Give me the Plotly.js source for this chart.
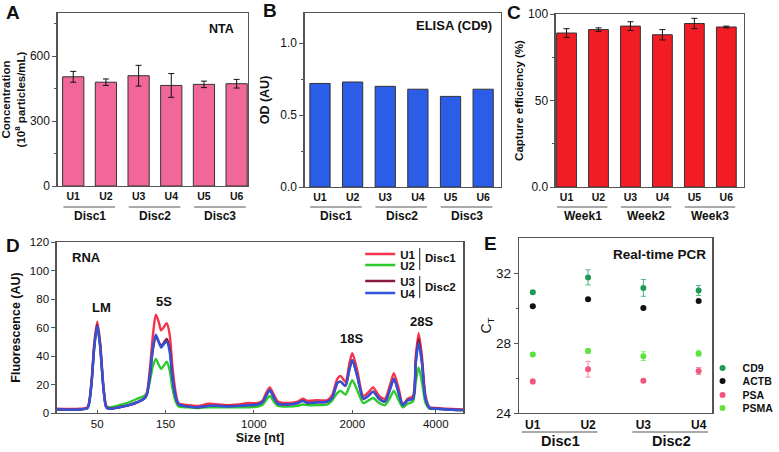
<!DOCTYPE html>
<html>
<head>
<meta charset="utf-8">
<script src="https://cdn.plot.ly/plotly-3.0.1.min.js"></script>
<style>html,body{margin:0;padding:0;background:#fff;}#chart{width:779px;height:452px;}</style>
</head>
<body>
<div id="chart"></div>
<script>
// ---------- DATA ----------
const cats6 = ['U1','U2','U3','U4','U5','U6'];
const ntaConc = [505, 480, 510, 465, 470, 473];
const ntaErr = [25, 15, 48, 55, 15, 20];
const elisaOD = [0.72, 0.73, 0.70, 0.68, 0.63, 0.68];
const captureEff = [89, 91, 93, 88, 94.5, 92.5];
const captureErr = [2.5, 1, 2.5, 3, 3, 0.5];
const discGroups = ['Disc1', 'Disc2', 'Disc3'];
const weekGroups = ['Week1', 'Week2', 'Week3'];

// Electropherogram (migration position, arbitrary units 0-100) and fluorescence
const sizeTickVals = [10, 26.8, 48.5, 72.7, 93.2];
const sizeTickText = ['50', '150', '1000', '2000', '4000'];
const migration = [0, 5.6, 7.6, 8.5, 9.3, 10.0, 10.7, 11.5, 12.2, 12.9, 15.4, 17.8, 20.2, 21.5, 22.2, 22.9, 23.7, 24.4, 25.1, 25.7, 26.3, 27.1, 27.8, 28.5, 29.3, 30.0, 32.4, 34.9, 37.3, 39.8, 42.2, 44.6, 47.1, 49.5, 50.7, 51.5, 52.4, 53.4, 54.4, 56.8, 59.3, 60.5, 61.7, 64.1, 66.6, 67.8, 69.0, 69.8, 71.0, 72.0, 72.7, 73.9, 75.4, 76.8, 77.8, 79.3, 80.7, 82.0, 82.9, 84.1, 85.1, 86.3, 87.6, 88.3, 89.0, 89.8, 90.7, 91.7, 93.4, 95.9, 100];
const rnaU1 = [3, 3, 4, 20, 50, 64, 50, 20, 5, 3, 4, 5.5, 8, 10, 14, 30, 55, 69, 64, 58, 60, 63, 55, 32, 14, 7, 5.5, 5, 6.5, 6, 5.5, 6, 7, 7, 9, 14, 18, 13, 8, 7, 8, 10, 8.5, 9, 9, 13, 24, 26, 22, 35, 42, 30, 12, 15, 18, 12, 10, 20, 28, 17, 6, 10, 12, 40, 56, 40, 12, 4, 3.5, 3, 2.5];
const rnaU2 = [2.5, 2.5, 3.5, 18, 47, 61, 47, 18, 5, 4, 5.5, 7.5, 10.5, 12, 14, 22, 33, 38, 34, 31, 33, 36, 30, 17, 8, 4.5, 4, 3.5, 4, 4, 4, 4, 4, 4.5, 6, 9, 12, 8, 5, 4.5, 5, 6, 5.5, 5.5, 6, 9, 14, 15.5, 13, 19, 23, 16, 7, 9, 10.5, 7, 5.5, 11, 15.5, 9, 4, 6.5, 8, 22, 32, 22, 7, 3, 3, 2.5, 2];
const rnaU3 = [2.5, 2.5, 3.5, 18, 48, 62, 48, 18, 4, 3, 4, 5.5, 8, 10, 13, 25, 45, 54, 50, 47, 49, 52, 45, 25, 11, 6, 4.5, 4, 5, 5, 5, 5, 5.5, 6, 8, 12, 16, 11, 6.5, 6, 7, 8.5, 7, 7.5, 8, 11, 21, 22, 19, 31, 37, 26, 10, 12.5, 15, 10, 8, 17, 24, 14, 5.5, 9, 10, 36, 52, 36, 10, 3.5, 3, 2.5, 2];
const rnaU4 = [2.5, 2.5, 3.5, 18, 47, 61, 47, 18, 4, 3, 4, 5.5, 8, 10, 13, 26, 46, 55, 50, 46, 48, 50, 43, 24, 11, 6, 4.5, 4, 5, 5, 4.5, 5, 5.5, 6, 8, 12, 16, 11, 6.5, 6, 7, 8.5, 7, 7.5, 8, 11, 21, 22, 19, 31, 37, 26, 10, 12.5, 15, 10, 8, 17, 24, 14, 5.5, 9, 10, 35, 49, 35, 10, 3.5, 3, 2.5, 2];

// Real-time PCR
const cats4 = ['U1', 'U2', 'U3', 'U4'];
const ctCD9 = [30.9, 31.75, 31.15, 31.0];
const ctCD9Err = [0.1, 0.43, 0.48, 0.28];
const ctACTB = [30.1, 30.5, 30.0, 30.4];
const ctACTBErr = [0.05, 0.05, 0.05, 0.05];
const ctPSA = [25.8, 26.5, 25.85, 26.4];
const ctPSAErr = [0.13, 0.45, 0.05, 0.2];
const ctPSMA = [27.35, 27.55, 27.25, 27.4];
const ctPSMAErr = [0.1, 0.12, 0.25, 0.15];

// ---------- STYLE ----------
const F = 'Liberation Sans, Arial, Helvetica, sans-serif';
const W = 779, H = 452;
const px = v => v / W;
const py = v => 1 - v / H;
const AX = '#555';

function baseAxis(extra) {
  return Object.assign({
    showline: true, linecolor: AX, linewidth: 1.2, mirror: true,
    zeroline: false, showgrid: false, ticks: 'outside', ticklen: 4,
    tickcolor: AX, tickwidth: 1, tickfont: {family: F, size: 12, color: '#111'}
  }, extra);
}
function catAxis(extra, size) {
  return baseAxis(Object.assign({ticks: '', tickfont: {family: F, size: size || 10.5, color: '#111', weight: 'bold'}}, extra));
}

const traces = [
  {type: 'bar', x: cats6, y: ntaConc, xaxis: 'x', yaxis: 'y', width: 0.65,
   marker: {color: '#F2679A', line: {color: '#333', width: 1}},
   error_y: {type: 'data', array: ntaErr, visible: true, color: '#111', thickness: 1, width: 3},
   showlegend: false, hoverinfo: 'skip'},
  {type: 'bar', x: cats6, y: elisaOD, xaxis: 'x2', yaxis: 'y2', width: 0.62,
   marker: {color: '#2B5DE8', line: {color: '#333', width: 1}},
   showlegend: false, hoverinfo: 'skip'},
  {type: 'bar', x: cats6, y: captureEff, xaxis: 'x3', yaxis: 'y3', width: 0.62,
   marker: {color: '#F21C24', line: {color: '#333', width: 1}},
   error_y: {type: 'data', array: captureErr, visible: true, color: '#111', thickness: 1, width: 3},
   showlegend: false, hoverinfo: 'skip'},
  {type: 'scatter', mode: 'lines', x: migration, y: rnaU2, xaxis: 'x4', yaxis: 'y4', name: 'U2',
   line: {color: '#2ACB2A', width: 2.4, shape: 'spline', smoothing: 0.7}, legend: 'legend2'},
  {type: 'scatter', mode: 'lines', x: migration, y: rnaU1, xaxis: 'x4', yaxis: 'y4', name: 'U1',
   line: {color: '#F5334A', width: 2.4, shape: 'spline', smoothing: 0.7}, legend: 'legend'},
  {type: 'scatter', mode: 'lines', x: migration, y: rnaU3, xaxis: 'x4', yaxis: 'y4', name: 'U3',
   line: {color: '#8A1A3C', width: 2.4, shape: 'spline', smoothing: 0.7}, legend: 'legend3'},
  {type: 'scatter', mode: 'lines', x: migration, y: rnaU4, xaxis: 'x4', yaxis: 'y4', name: 'U4',
   line: {color: '#3352DC', width: 2.4, shape: 'spline', smoothing: 0.7}, legend: 'legend4'},
  {type: 'scatter', mode: 'markers', x: cats4, y: ctCD9, xaxis: 'x5', yaxis: 'y5', name: 'CD9',
   marker: {color: '#1E9A58', size: 6},
   error_y: {type: 'data', array: ctCD9Err, color: '#4DB87A', thickness: 1, width: 2.5}, legend: 'legend5'},
  {type: 'scatter', mode: 'markers', x: cats4, y: ctACTB, xaxis: 'x5', yaxis: 'y5', name: 'ACTB',
   marker: {color: '#111', size: 6},
   error_y: {type: 'data', array: ctACTBErr, color: '#444', thickness: 1, width: 2.5}, legend: 'legend6'},
  {type: 'scatter', mode: 'markers', x: cats4, y: ctPSA, xaxis: 'x5', yaxis: 'y5', name: 'PSA',
   marker: {color: '#F2557E', size: 6},
   error_y: {type: 'data', array: ctPSAErr, color: '#F58AA6', thickness: 1, width: 2.5}, legend: 'legend7'},
  {type: 'scatter', mode: 'markers', x: cats4, y: ctPSMA, xaxis: 'x5', yaxis: 'y5', name: 'PSMA',
   marker: {color: '#5EE23C', size: 6},
   error_y: {type: 'data', array: ctPSMAErr, color: '#86EA6A', thickness: 1, width: 2.5}, legend: 'legend8'}
];

function leg(xp, yp, size) {
  return {x: px(xp), y: py(yp), xanchor: 'left', yanchor: 'middle', bgcolor: 'rgba(0,0,0,0)',
          borderwidth: 0, itemwidth: 30, font: {family: F, size: size, color: '#111', weight: 'bold'}};
}

const bold = (s, extra) => Object.assign({family: F, size: s, color: '#111', weight: 'bold'}, extra || {});

const annotations = [];
function ann(text, x, y, opts) {
  annotations.push(Object.assign({text: text, x: x, y: y, xref: 'paper', yref: 'paper', showarrow: false,
    xanchor: 'center', yanchor: 'middle', font: bold(12)}, opts || {}));
}
// panel letters
ann('A', px(13), py(13), {font: bold(19)});
ann('B', px(272), py(11), {font: bold(19)});
ann('C', px(518), py(12), {font: bold(19)});
ann('D', px(13), py(245), {font: bold(19)});
ann('E', px(494), py(243), {font: bold(19)});
// in-plot titles
ann('NTA', px(238), py(29), {xanchor: 'right', font: bold(12.5)});
ann('ELISA (CD9)', px(498), py(25), {xanchor: 'right', font: bold(13)});
ann('Real-time PCR', px(713), py(254), {xanchor: 'right', font: bold(13.5)});
// D peak labels (data coords)
const peakLabels = ['RNA', 'LM', '5S', '18S', '28S'];
const peakX = [3.2, 11, 26.5, 72.4, 89.8];
const peakY = [109, 74, 78, 52, 64];
peakLabels.forEach((t, i) => {
  annotations.push({text: t, x: peakX[i], y: peakY[i], xref: 'x4', yref: 'y4', showarrow: false,
    xanchor: i === 0 ? 'left' : 'center', yanchor: 'middle', font: bold(13)});
});
// D legend group labels
ann('Disc1', px(426), py(258), {xanchor: 'left', font: bold(11.5)});
ann('Disc2', px(426), py(287), {xanchor: 'left', font: bold(11.5)});

// group labels under bar charts
const shapes = [];
function groupLine(xref, x0, x1, yp) {
  shapes.push({type: 'line', xref: xref, yref: 'paper', x0: x0, x1: x1, y0: py(yp), y1: py(yp),
               line: {color: AX, width: 1}});
}
[['x', discGroups], ['x2', discGroups], ['x3', weekGroups]].forEach(([xr, g]) => {
  g.forEach((name, i) => {
    groupLine(xr, 2 * i - 0.3, 2 * i + 1.28, 207);
    annotations.push({text: name, x: 2 * i + 0.5, y: py(216), xref: xr, yref: 'paper', showarrow: false,
      xanchor: 'center', yanchor: 'middle', font: bold(12)});
  });
});
['Disc1', 'Disc2'].forEach((name, i) => {
  groupLine('x5', 2 * i - 0.2, 2 * i + 1.17, 432);
  annotations.push({text: name, x: 2 * i + 0.5, y: py(451), xref: 'x5', yref: 'paper', showarrow: false,
    xanchor: 'center', yanchor: 'bottom', font: bold(14.5)});
});
// D legend brackets
shapes.push({type: 'line', xref: 'paper', yref: 'paper', x0: px(423), x1: px(423), y0: py(248), y1: py(270), line: {color: '#222', width: 1}});
shapes.push({type: 'line', xref: 'paper', yref: 'paper', x0: px(423), x1: px(423), y0: py(276), y1: py(298), line: {color: '#222', width: 1}});

const layout = {
  width: W, height: H, margin: {l: 0, r: 0, t: 0, b: 0},
  paper_bgcolor: '#fff', plot_bgcolor: '#fff', font: {family: F, size: 12, color: '#111'},
  showlegend: true, bargap: 0.3,
  xaxis: catAxis({domain: [px(58), px(250)], anchor: 'y', range: [-0.48, 5.35]}),
  yaxis: baseAxis({domain: [py(186), py(13)], anchor: 'x', range: [0, 800], tickvals: [0, 300, 600],
    minor: {tickvals: [150, 450, 750], ticks: 'outside', ticklen: 2, tickcolor: AX},
    title: {text: 'Concentration<br>(10<sup>8</sup> particles/mL)', font: bold(11.5), standoff: 8}}),
  xaxis2: catAxis({domain: [px(307), px(505)], anchor: 'y2', range: [-0.47, 5.55]}),
  yaxis2: baseAxis({domain: [py(187), py(13)], anchor: 'x2', range: [0, 1.21], tickvals: [0, 0.5, 1.0], tickformat: '.1f',
    minor: {tickvals: [0.25, 0.75], ticks: 'outside', ticklen: 2, tickcolor: AX},
    title: {text: 'OD (AU)', font: bold(12.5), standoff: 8}}),
  xaxis3: catAxis({domain: [px(560), px(750)], anchor: 'y3', range: [-0.34, 5.56]}),
  yaxis3: baseAxis({domain: [py(187), py(14)], anchor: 'x3', range: [0, 100], tickvals: [0, 50, 100], ticktext: ['0.0', '50', '100'],
    minor: {tickvals: [25, 75], ticks: 'outside', ticklen: 2, tickcolor: AX},
    title: {text: 'Capture efficiency (%)', font: bold(11.5), standoff: 2}}),
  xaxis4: baseAxis({domain: [px(57), px(467)], anchor: 'y4', range: [0, 100], tickvals: sizeTickVals, ticktext: sizeTickText,
    ticks: 'inside', ticklen: 3, tickfont: {family: F, size: 11.5, color: '#111'},
    title: {text: 'Size [nt]', font: bold(12.5), standoff: 4}}),
  yaxis4: baseAxis({domain: [py(413), py(242)], anchor: 'x4', range: [0, 120], dtick: 20,
    tickfont: {family: F, size: 11.5, color: '#111'},
    title: {text: 'Fluorescence (AU)', font: bold(12.5), standoff: 6}}),
  xaxis5: catAxis({domain: [px(523), px(718)], anchor: 'y5', range: [-0.25, 3.25]}, 12),
  yaxis5: baseAxis({domain: [py(413), py(238)], anchor: 'x5', range: [24, 34], tickvals: [24, 28, 32],
    minor: {tickvals: [26, 30], ticks: 'outside', ticklen: 2, tickcolor: AX},
    tickfont: {family: F, size: 13.5, color: '#111'},
    title: {text: 'C<sub>T</sub>', font: {family: F, size: 14, color: '#111'}, standoff: 1}}),
  legend: leg(363, 254, 11.5),
  legend2: leg(363, 265, 11.5),
  legend3: leg(363, 281, 11.5),
  legend4: leg(363, 293, 11.5),
  legend5: leg(708, 368, 10.5),
  legend6: leg(708, 381, 10.5),
  legend7: leg(708, 395, 10.5),
  legend8: leg(708, 408, 10.5),
  annotations: annotations,
  shapes: shapes
};

Plotly.newPlot('chart', traces, layout, {staticPlot: true, displayModeBar: false});
</script>
</body>
</html>
